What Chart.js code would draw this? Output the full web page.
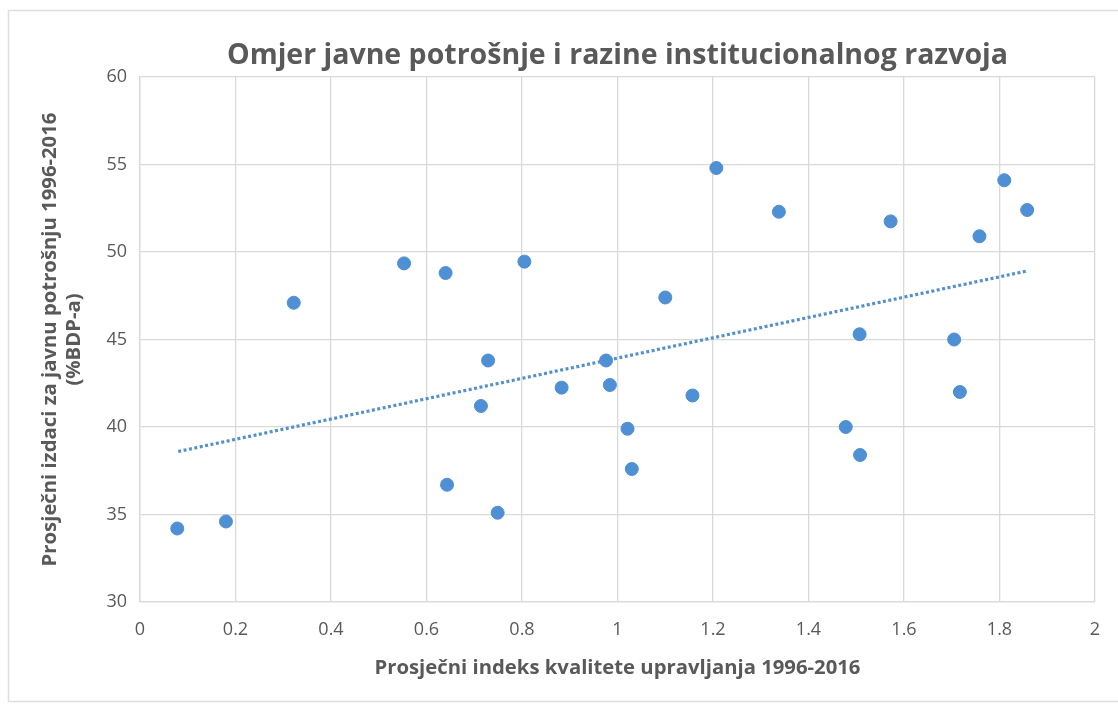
<!DOCTYPE html>
<html>
<head>
<meta charset="utf-8">
<script src="https://cdn.jsdelivr.net/npm/chart.js@4/dist/chart.umd.min.js"></script>
<style>
  body { margin: 0; background: #fff; }
  canvas { display: block; }
</style>
</head>
<body>
<canvas id="myChart" width="1118" height="704"></canvas>
<script>
// governance index (x) vs public spending % of GDP (y), one point per country
const governance = [0.078, 0.180, 0.322, 0.553, 0.640, 0.643, 0.714, 0.729, 0.749, 0.805,
  0.883, 0.976, 0.984, 1.021, 1.030, 1.100, 1.157, 1.207, 1.338, 1.478,
  1.507, 1.508, 1.572, 1.705, 1.717, 1.758, 1.810, 1.858]
const spending = [34.2, 34.6, 47.1, 49.35, 48.8, 36.7, 41.2, 43.8, 35.1, 49.45,
  42.25, 43.8, 42.4, 39.9, 37.6, 47.4, 41.8, 54.8, 52.3, 40.0,
  45.3, 38.4, 51.75, 45.0, 42.0, 50.9, 54.1, 52.4]

// linear trendline ends
const trendX = [0.08, 1.855]
const trendY = [38.6, 48.9]

const title = 'Omjer javne potrošnje i razine institucionalnog razvoja'
const xTitle = 'Prosječni indeks kvalitete upravljanja 1996-2016'
const yTitle = ['Prosječni izdaci za javnu potrošnju 1996-2016', '(%BDP-a)']

const textColor = '#595959'
const gridColor = '#d9d9d9'
const font = 'Open Sans'

let points = governance.map((x, i) => ({x: x, y: spending[i]}))
let trend = trendX.map((x, i) => ({x: x, y: trendY[i]}))

// light frame around the whole picture
const frame = {
  id: 'frame',
  beforeDraw(chart) {
    const ctx = chart.ctx
    ctx.save()
    ctx.fillStyle = '#fff'
    ctx.fillRect(0, 0, chart.width, chart.height)
    ctx.strokeStyle = '#dedede'
    ctx.lineWidth = 1.5
    ctx.strokeRect(8.5, 10.5, chart.width + 10, 691)
    ctx.restore()
  }
}

Chart.defaults.font.family = font
Chart.defaults.color = textColor

new Chart(document.getElementById('myChart'), {
  type: 'scatter',
  data: {
    datasets: [{
      data: points,
      backgroundColor: '#4f8fd4',
      borderColor: '#4f8fd4',
      pointRadius: 6.5,
      pointHoverRadius: 6.5
    }, {
      type: 'line',
      data: trend,
      showLine: true,
      borderColor: '#5690cc',
      borderWidth: 3.2,
      borderDash: [3, 2.5],
      pointRadius: 0,
      fill: false
    }]
  },
  options: {
    responsive: false,
    animation: false,
    layout: {padding: {left: 0, right: 23, top: 0, bottom: 0}},
    plugins: {
      legend: {display: false},
      tooltip: {enabled: false},
      title: {
        display: true,
        text: title,
        fullSize: false,
        color: textColor,
        font: {size: 28.5, weight: 'bold'},
        padding: {top: 39, bottom: 3.8}
      }
    },
    scales: {
      x: {
        type: 'linear',
        min: 0,
        max: 2,
        ticks: {
          stepSize: 0.2,
          padding: 17,
          color: textColor,
          font: {size: 18},
          callback: v => String(+v.toFixed(1))
        },
        grid: {color: gridColor, lineWidth: 1.3, drawTicks: false},
        border: {color: gridColor, width: 1.3},
        title: {
          display: true,
          text: xTitle,
          color: textColor,
          font: {size: 20.3, weight: 'bold'},
          padding: {top: 0, bottom: 24}
        },
        afterFit(scale) { scale.height = 102 }
      },
      y: {
        min: 30,
        max: 60,
        ticks: {
          stepSize: 5,
          padding: 13,
          color: textColor,
          font: {size: 18}
        },
        grid: {color: gridColor, lineWidth: 1.3, drawTicks: false},
        border: {color: gridColor, width: 1.3},
        title: {
          display: true,
          text: yTitle,
          color: textColor,
          font: {size: 20.3, weight: 'bold'},
          padding: {top: 38, bottom: 0}
        },
        afterFit(scale) { scale.width = 140 }
      }
    }
  },
  plugins: [frame]
})
</script>
</body>
</html>
